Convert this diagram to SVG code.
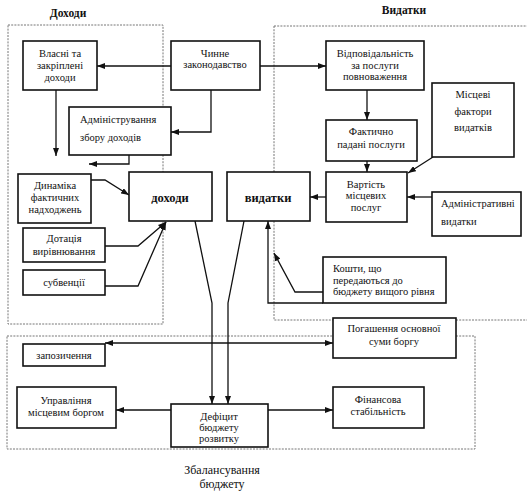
<svg xmlns="http://www.w3.org/2000/svg" width="527" height="494" viewBox="0 0 527 494">
<defs>
<marker id="ah" markerWidth="8" markerHeight="6" refX="8" refY="3" orient="auto-start-reverse" markerUnits="userSpaceOnUse">
<path d="M0,0 L8,3 L0,6 z" fill="#111"/>
</marker>
<style>
.panel{fill:none;stroke:#777;stroke-width:1;stroke-dasharray:2 1.2}
.box{fill:#fff;stroke:#111;stroke-width:1.6}
text{font-family:'Liberation Serif','Times New Roman',serif;fill:#111}
.t{font-size:10.5px;text-anchor:middle}
.l{text-anchor:start}
.big{font-size:12.5px;font-weight:bold}
.title{font-size:11.5px;font-weight:bold;text-anchor:middle}
.foot{font-size:12px;text-anchor:middle}
.c{fill:none;stroke:#111;stroke-width:1.3;marker-end:url(#ah)}
.cb{fill:none;stroke:#111;stroke-width:1.3;marker-start:url(#ah);marker-end:url(#ah)}
</style>
</defs>
<rect width="527" height="494" fill="#fff"/>

<g id="panels" font-family="Liberation Serif, serif">
<path class="panel" d="M8,25 H163 V324 H8 Z"/>
<path class="panel" d="M274,26 V320 H333 M456,320 H530 M274,26 H530"/>
<path class="panel" d="M7,336 H333 M456,336 H475 V449 H7 V336"/>
<text class="title" x="68" y="17">Доходи</text>
<text class="title" x="404" y="14">Видатки</text>
<text class="foot" x="222" y="474">Збалансування</text>
<text class="foot" x="222" y="488">бюджету</text>
</g>

<g id="connectors">
<path class="c" d="M171,66 H97"/>
<path class="c" d="M260,66 H326"/>
<path class="c" d="M211,90 V132 H171"/>
<path class="c" d="M56,90 V156"/>
<path class="c" d="M129,155 V164 H89"/>
<path class="c" d="M91,180 H105 L129,195"/>
<path class="c" d="M105,246 H138 L166,222"/>
<path class="c" d="M105,286 H138 L166,222"/>
<path class="c" d="M367,90 V120"/>
<path class="c" d="M367,161 V172"/>
<path class="c" d="M433,157 L408,173"/>
<path class="c" d="M326,197 H310"/>
<path class="c" d="M432,197 H407"/>
<path class="c" d="M323,292 H295 L274,253"/>
<path class="c" d="M323,303 H268 V221"/>
<path class="c" d="M195,221 L212,303 V404"/>
<path class="c" d="M244,221 L228,303 V404"/>
<path class="c" d="M171,410 H116"/>
<path class="c" d="M268,410 H333"/>
<path class="cb" d="M105,343 H333"/>
</g>

<g id="nodes" font-family="Liberation Serif, serif">
<g id="n-vlasni"><rect class="box" x="23" y="41" width="74" height="49"/>
<text class="t" x="60" y="56.5">Власні та</text><text class="t" x="60" y="68.5">закріплені</text><text class="t" x="60" y="80.5">доходи</text></g>

<g id="n-zakon"><rect class="box" x="171" y="41" width="89" height="49"/>
<text class="t" x="215" y="56.5">Чинне</text><text class="t" x="215" y="68">законодавство</text></g>

<g id="n-admin"><rect class="box" x="69" y="107" width="102" height="48"/>
<text class="t l" x="80" y="122.5">Адміністрування</text><text class="t l" x="80" y="141">збору доходів</text></g>

<g id="n-dynamika"><rect class="box" x="18" y="174" width="73" height="49"/>
<text class="t" x="55" y="189">Динаміка</text><text class="t" x="55" y="201">фактичних</text><text class="t" x="55" y="213">надходжень</text></g>

<g id="n-dotatsia"><rect class="box" x="23" y="228" width="82" height="34"/>
<text class="t" x="64" y="242">Дотація</text><text class="t" x="64" y="255">вирівнювання</text></g>

<g id="n-subventsii"><rect class="box" x="23" y="270" width="82" height="25"/>
<text class="t" x="64" y="286">субвенції</text></g>

<g id="n-dokhody"><rect class="box" x="129" y="172" width="83" height="49"/>
<text class="t big" x="170" y="202">доходи</text></g>

<g id="n-vydatky"><rect class="box" x="227" y="172" width="83" height="49"/>
<text class="t big" x="268" y="202">видатки</text></g>

<g id="n-vidpov"><rect class="box" x="326" y="41" width="98" height="49"/>
<text class="t" x="375" y="57">Відповідальність</text><text class="t" x="375" y="68.5">за послуги</text><text class="t" x="375" y="80">повноваження</text></g>

<g id="n-mistsevi"><rect class="box" x="432" y="83" width="82" height="74"/>
<text class="t" x="473" y="98">Місцеві</text><text class="t" x="473" y="115">фактори</text><text class="t" x="473" y="131">видатків</text></g>

<g id="n-faktychno"><rect class="box" x="326" y="120" width="91" height="41"/>
<text class="t" x="371" y="135">Фактично</text><text class="t" x="371" y="148">падані послуги</text></g>

<g id="n-vartist"><rect class="box" x="326" y="172" width="81" height="50"/>
<text class="t" x="366" y="188">Вартість</text><text class="t" x="366" y="199">місцевих</text><text class="t" x="366" y="210.5">послуг</text></g>

<g id="n-adminvyd"><rect class="box" x="432" y="192" width="89" height="44"/>
<text class="t l" x="441" y="207">Адміністративні</text><text class="t l" x="441" y="225">видатки</text></g>

<g id="n-koshty"><rect class="box" x="323" y="257" width="123" height="46"/>
<text class="t l" x="333" y="272">Кошти, що</text><text class="t l" x="333" y="283.5">передаються до</text><text class="t l" x="333" y="295">бюджету вищого рівня</text></g>

<g id="n-pogashennia"><rect class="box" x="333" y="318" width="123" height="40"/>
<text class="t" x="394" y="332">Погашення основної</text><text class="t" x="394" y="345">суми боргу</text></g>

<g id="n-zapozychennia"><rect class="box" x="23" y="344" width="82" height="22"/>
<text class="t" x="64" y="359">запозичення</text></g>

<g id="n-upravlinnia"><rect class="box" x="17" y="387" width="99" height="41"/>
<text class="t" x="66" y="404">Управління</text><text class="t" x="66" y="416">місцевим боргом</text></g>

<g id="n-defitsyt"><rect class="box" x="171" y="404" width="97" height="43"/>
<text class="t" x="219" y="420">Дефіцит</text><text class="t" x="219" y="431">бюджету</text><text class="t" x="219" y="442">розвитку</text></g>

<g id="n-finansova"><rect class="box" x="333" y="387" width="91" height="41"/>
<text class="t" x="378" y="403">Фінансова</text><text class="t" x="378" y="415">стабільність</text></g>
</g>
</svg>
